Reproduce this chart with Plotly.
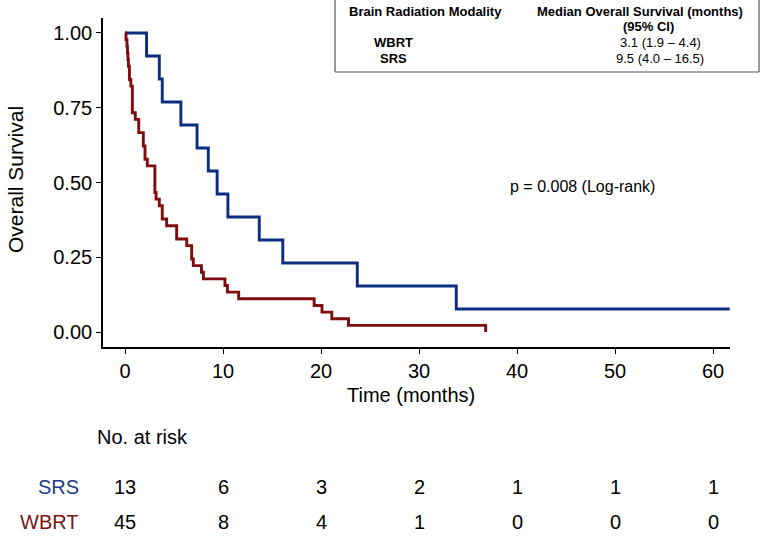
import plotly.graph_objects as go

# ---- data ----
srs_times = [0, 2.2, 3.5, 3.8, 5.7, 7.35, 8.5, 9.4, 10.5, 13.7, 16.1, 23.7, 33.8, 61.7]
srs_alive = [13, 12, 11, 10, 9, 8, 7, 6, 5, 4, 3, 2, 1, 1]
srs_n = 13

wbrt_times = [0, 0.1, 0.2, 0.25, 0.3, 0.35, 0.45, 0.6, 0.75, 1.05, 1.4, 1.87, 2.04, 2.28,
              3.05, 3.17, 3.5, 3.8, 4.25, 5.27, 6.3, 6.8, 6.97, 7.8, 8.0, 10.2, 10.45,
              11.6, 19.3, 20.1, 21.1, 22.8, 36.8]
wbrt_alive = [45, 44, 43, 42, 41, 40, 38, 37, 33, 32, 30, 28, 26, 25,
              21, 20, 19, 17, 16, 14, 13, 11, 10, 9, 8, 7, 6,
              5, 4, 3, 2, 1, 0]
wbrt_n = 45

risk_times = [0, 10, 20, 30, 40, 50, 60]
risk_srs = [13, 6, 3, 2, 1, 1, 1]
risk_wbrt = [45, 8, 4, 1, 0, 0, 0]

x_ticks = [0, 10, 20, 30, 40, 50, 60]
y_ticks = [0, 0.25, 0.5, 0.75, 1.0]
y_ticklabels = ["0.00", "0.25", "0.50", "0.75", "1.00"]

table_header = ["Brain Radiation Modality", "Median Overall Survival (months)", "(95% CI)"]
table_rows = [("WBRT", "3.1 (1.9 \u2013 4.4)"), ("SRS", "9.5 (4.0 \u2013 16.5)")]

BLUE = "#0B2C7F"
RED = "#7E0E0E"
FONT = "Liberation Sans, Arial, sans-serif"

srs_surv = [a / srs_n for a in srs_alive]
wbrt_surv = [a / wbrt_n for a in wbrt_alive]

fig = go.Figure()
fig.add_trace(go.Scatter(x=srs_times, y=srs_surv, mode="lines", line=dict(color=BLUE, width=2.9, shape="hv"),
                         name="SRS", hoverinfo="skip"))
fig.add_trace(go.Scatter(x=wbrt_times, y=wbrt_surv, mode="lines", line=dict(color=RED, width=2.9, shape="hv"),
                         name="WBRT", hoverinfo="skip"))

# plot area in page pixels: x 103..730, y 18..347
W, H = 762, 537
PL, PR, PT, PB = 103, 730, 18, 347
L, T, R, B = PL, PT, W - PR, H - PB
pw, ph = PR - PL, PB - PT


def px(xp):
    return (xp - PL) / pw


def py(yp):
    return (PB - yp) / ph


def txt(text, x, y, size, color="black", xanchor="center", xref="paper", angle=0, family=FONT):
    return dict(text=text, x=x, y=y, xref=xref, yref="paper", showarrow=False, textangle=angle,
                font=dict(size=size, color=color, family=family), xanchor=xanchor, yanchor="middle")


ann = []
ann.append(txt("Time (months)", px(411), py(395), 20))
ann.append(txt("Overall Survival", px(15), py(180), 21, angle=-90))
ann.append(dict(text="p = 0.008 (Log-rank)", x=46.7, y=0.485, xref="x", yref="y", showarrow=False,
                font=dict(size=16, color="black", family=FONT), xanchor="center", yanchor="middle"))
# risk table
ann.append(txt("No. at risk", px(95), py(437), 20, xanchor="left"))
ann.append(txt("SRS", px(81), py(487), 20, color="#1F3B8C", xanchor="right"))
ann.append(txt("WBRT", px(81), py(522), 20, color="#7A1212", xanchor="right"))
for t, s, w in zip(risk_times, risk_srs, risk_wbrt):
    ann.append(txt(str(s), t, py(487), 20, xref="x"))
    ann.append(txt(str(w), t, py(522), 20, xref="x"))

# summary table box
ann.append(txt("<b>%s</b>" % table_header[0], px(425), py(11), 13))
ann.append(txt("<b>%s</b>" % table_header[1], px(640), py(11), 13))
ann.append(txt("<b>%s</b>" % table_header[2], px(648), py(27), 13))
for i, (lab, val) in enumerate(table_rows):
    yy = 42 + i * 16
    ann.append(txt("<b>%s</b>" % lab, px(393), py(yy), 13))
    ann.append(txt(val, px(660), py(yy), 13))

box_line = dict(color="#555555", width=1.2)
shapes = [
    dict(type="rect", xref="paper", yref="paper", x0=px(335), x1=px(759), y0=py(72), y1=py(0),
         line=dict(width=0), fillcolor="white", layer="above"),
    dict(type="line", xref="paper", yref="paper", x0=px(335), x1=px(335), y0=py(72), y1=py(0),
         line=box_line, layer="above"),
    dict(type="line", xref="paper", yref="paper", x0=px(759), x1=px(759), y0=py(72), y1=py(0),
         line=box_line, layer="above"),
    dict(type="line", xref="paper", yref="paper", x0=px(335), x1=px(759), y0=py(72), y1=py(72),
         line=box_line, layer="above"),
]

fig.update_layout(
    width=W, height=H,
    margin=dict(l=L, r=R, t=T, b=B),
    paper_bgcolor="white", plot_bgcolor="white",
    showlegend=False,
    hovermode=False,
    annotations=ann,
    shapes=shapes,
    xaxis=dict(range=[-2.245, 61.73], tickvals=x_ticks, ticktext=[str(v) for v in x_ticks],
               showgrid=False, zeroline=False, showline=True, linecolor="black", linewidth=1.6,
               ticks="outside", ticklen=5, tickwidth=1.3, tickcolor="black",
               tickfont=dict(size=20, color="black", family=FONT)),
    yaxis=dict(range=[-0.05, 1.05], tickvals=y_ticks, ticktext=y_ticklabels,
               showgrid=False, zeroline=False, showline=True, linecolor="black", linewidth=1.6,
               ticks="outside", ticklen=5, tickwidth=1.3, tickcolor="black",
               tickfont=dict(size=20, color="black", family=FONT)),
)

# remove the browser's default 8px page margin so the figure sits at the window's top-left corner
fig.write_html("out.html", config=dict(displayModeBar=False),
               post_script="document.body.style.margin='0';document.body.style.overflow='hidden';")
